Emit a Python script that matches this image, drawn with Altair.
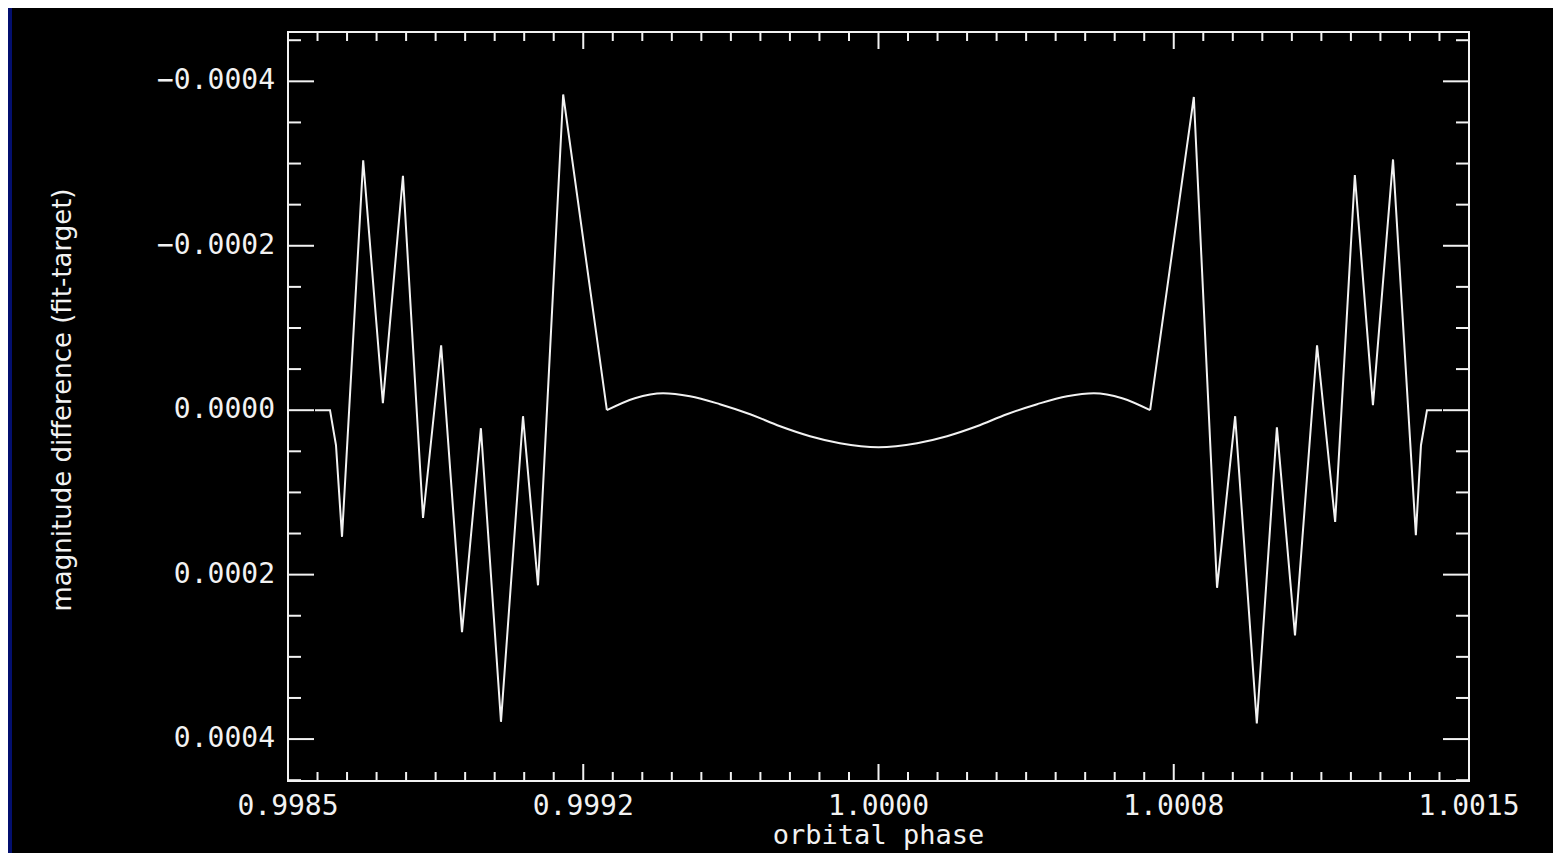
import altair as alt
import pandas as pd

# ---- data ----
phase = [
    0.9985686, 0.9986067, 0.9986219, 0.9986372, 0.998691, 0.998741, 0.998792,
    0.998843, 0.998889, 0.998942, 0.998990, 0.999041, 0.999097, 0.999135,
    0.999199, 0.999310,
    0.999381, 0.999453, 0.999521, 0.999597, 0.999674, 0.999750, 0.999826,
    0.999902, 1.000000, 1.000098, 1.000174, 1.000250, 1.000326, 1.000403,
    1.000479, 1.000547, 1.000619, 1.000690,
    1.000801, 1.000860, 1.000906, 1.000961, 1.001012, 1.001058, 1.001114,
    1.001160, 1.001210, 1.001256, 1.001307, 1.001365, 1.001378, 1.0013933,
    1.0014314,
]
diff = [
    0.0, 0.0, 0.0000426, 0.000154, -0.000304, -0.0000085, -0.000285,
    0.000131, -0.000079, 0.000270, 0.0000219, 0.000379, 0.0000073, 0.000213,
    -0.000384, 0.0,
    -0.0000146, -0.0000207, -0.0000170, -0.0000073, 0.0000049, 0.0000195, 0.0000316,
    0.0000401, 0.0000450, 0.0000401, 0.0000316, 0.0000195, 0.0000049, -0.0000073,
    -0.0000170, -0.0000207, -0.0000146, 0.0,
    -0.000381, 0.000216, 0.0000073, 0.000381, 0.0000207, 0.000274, -0.000079,
    0.000136, -0.000286, -0.0000061, -0.000305, 0.000152, 0.0000426, 0.0,
    0.0,
]
# index ranges of the three parts (oscillating wings share the cusp points with the smooth middle)
LEFT_END, RIGHT_START = 15, 33

X_DOMAIN = [0.9985, 1.0015]
Y_DOMAIN = [-0.00046, 0.000451]
X_MAJOR = [0.9985, 0.99925, 1.0, 1.00075, 1.0015]
X_LABELS = ["0.9985", "0.9992", "1.0000", "1.0008", "1.0015"]
X_MINOR = [round(0.9985 + i * 0.000075, 7) for i in range(41) if i % 10]
Y_MAJOR = [-0.0004, -0.0002, 0.0, 0.0002, 0.0004]
Y_LABELS = ["\u22120.0004", "\u22120.0002", "0.0000", "0.0002", "0.0004"]
Y_MINOR = [round(-0.00045 + i * 0.00005, 7) for i in range(19) if i % 4 != 1]

X_TITLE = "orbital phase"
Y_TITLE = "magnitude difference (fit-target)"

# ---- styling ----
W, H = 1181, 749
FG = "#f2f2f2"
NAVY = "#030f6f"
FONT = "DejaVu Sans"
MONO = "DejaVu Sans Mono"

xscale = alt.Scale(domain=X_DOMAIN, nice=False, zero=False)
yscale = alt.Scale(domain=Y_DOMAIN, reverse=True, nice=False, zero=False)


def xticks(vals, length, top):
    d = pd.DataFrame({"v": vals})
    y0, y1 = (0, length) if top else (H, H - length)
    return alt.Chart(d).mark_rule(color=FG, strokeWidth=2).encode(
        x=alt.X("v:Q", scale=xscale, axis=None),
        y=alt.value(y0), y2=alt.value(y1),
    )


def yticks(vals, length, right):
    d = pd.DataFrame({"v": vals})
    x0, x1 = (W, W - length) if right else (0, length)
    return alt.Chart(d).mark_rule(color=FG, strokeWidth=2).encode(
        y=alt.Y("v:Q", scale=yscale, axis=None),
        x=alt.value(x0), x2=alt.value(x1),
    )


def curve(i0, i1, interp):
    d = pd.DataFrame({"phase": phase[i0:i1], "diff": diff[i0:i1]})
    return alt.Chart(d).mark_line(color=FG, strokeWidth=2, interpolate=interp).encode(
        x=alt.X("phase:Q", scale=xscale, axis=None),
        y=alt.Y("diff:Q", scale=yscale, axis=None),
    )


strip = alt.Chart(pd.DataFrame({"a": [0]})).mark_rect(color=NAVY).encode(
    x=alt.value(-280), x2=alt.value(-276), y=alt.value(-24), y2=alt.value(H + 72)
)

tick_layers = [
    xticks(X_MAJOR, 17, False), xticks(X_MAJOR, 17, True),
    xticks(X_MINOR, 9, False), xticks(X_MINOR, 9, True),
    yticks(Y_MAJOR, 26, False), yticks(Y_MAJOR, 26, True),
    yticks(Y_MINOR, 13, False), yticks(Y_MINOR, 13, True),
]

xlab = alt.Chart(pd.DataFrame({"v": X_MAJOR, "t": X_LABELS})).mark_text(
    font=MONO, fontSize=28, color=FG, align="center", baseline="middle"
).encode(
    x=alt.X("v:Q", scale=xscale, axis=None), y=alt.value(H + 26), text="t:N"
)

ylab = alt.Chart(pd.DataFrame({"v": Y_MAJOR, "t": Y_LABELS})).mark_text(
    font=MONO, fontSize=28, color=FG, align="right", baseline="middle"
).encode(
    y=alt.Y("v:Q", scale=yscale, axis=None), x=alt.value(-13), text="t:N"
)

xtitle = alt.Chart(pd.DataFrame({"t": [X_TITLE]})).mark_text(
    font=MONO, fontSize=27, color=FG, align="center", baseline="middle"
).encode(x=alt.value(W / 2), y=alt.value(H + 55), text="t:N")

ytitle = alt.Chart(pd.DataFrame({"t": [Y_TITLE]})).mark_text(
    font=FONT, fontSize=26, color=FG, align="center", baseline="middle", angle=270
).encode(x=alt.value(-225), y=alt.value(368), text="t:N")

lines = [
    curve(0, LEFT_END + 1, "linear"),
    curve(LEFT_END, RIGHT_START + 1, "monotone"),
    curve(RIGHT_START, len(phase), "linear"),
]

chart = alt.layer(strip, *tick_layers, xlab, ylab, xtitle, ytitle, *lines).properties(
    width=W, height=H,
    padding={"left": 280, "top": 24, "right": 84, "bottom": 72},
    autosize=alt.AutoSizeParams(type="none"),
    background="black",
).configure_view(stroke=FG, strokeWidth=2)

chart.save("out.html", embed_options={"renderer": "svg", "actions": False})
